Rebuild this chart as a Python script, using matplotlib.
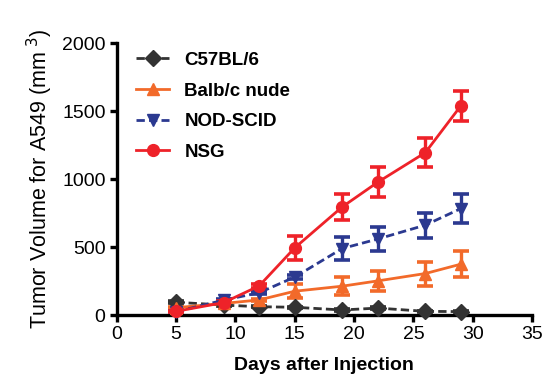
import numpy as np
import matplotlib.pyplot as plt

plt.rcParams['font.family'] = ['Liberation Sans', 'DejaVu Sans']

days = [5, 9, 12, 15, 19, 22, 26, 29]

c57_mean = [95, 74, 62, 58, 38, 52, 28, 26]
c57_err = [6, 5, 5, 5, 4, 5, 4, 4]

balb_mean = [55, 86, 112, 176, 213, 252, 306, 375]
balb_err = [6, 8, 10, 52, 64, 74, 88, 95]

nod_mean = [25, 110, 165, 280, 490, 560, 662, 784]
nod_err = [5, 8, 10, 12, 86, 90, 92, 105]

nsg_mean = [28, 92, 215, 495, 796, 978, 1195, 1540]
nsg_err = [5, 10, 12, 88, 97, 112, 108, 110]

series = [
    ("C57BL/6", c57_mean, c57_err, '#333333', 'D', (0, (3.0, 1.5))),
    ("Balb/c nude", balb_mean, balb_err, '#F26A2A', '^', '-'),
    ("NOD-SCID", nod_mean, nod_err, '#2B3990', 'v', (0, (3.0, 1.5))),
    ("NSG", nsg_mean, nsg_err, '#EE2229', 'o', '-'),
]

fig = plt.figure(figsize=(5.48, 3.82), dpi=100)
ax = fig.add_axes([0.213, 0.175, 0.758, 0.712])

handles = []
for name, mean, err, color, marker, ls in series:
    eb = ax.errorbar(days, mean, yerr=err, color=color, marker=marker,
                     linestyle=ls, linewidth=2.0, markersize=8.5,
                     elinewidth=2.4, capsize=6, capthick=2.6,
                     clip_on=False, zorder=3)
    handles.append(eb)

ax.set_xlim(0, 35)
ax.set_ylim(0, 2000)
ax.set_xticks(range(0, 36, 5))
ax.set_yticks(range(0, 2001, 500))

for s in ['top', 'right']:
    ax.spines[s].set_visible(False)
for s in ['left', 'bottom']:
    ax.spines[s].set_linewidth(2.4)
ax.tick_params(direction='out', length=5, width=2.4, labelsize=14, pad=3)

ax.set_xlabel('Days after Injection', fontsize=14, fontweight='bold', labelpad=10)
ax.set_ylabel(r'Tumor Volume for A549 (mm$^{\ 3}$)', fontsize=15.5, labelpad=5)

leg = ax.legend([h[0] for h in handles], [s[0] for s in series],
                loc='upper left', bbox_to_anchor=(0.005, 1.03), frameon=False,
                prop={'weight': 'bold', 'size': 13.5}, handlelength=1.8,
                labelspacing=0.72, handletextpad=0.8)

fig.savefig('out.png', dpi=100)
